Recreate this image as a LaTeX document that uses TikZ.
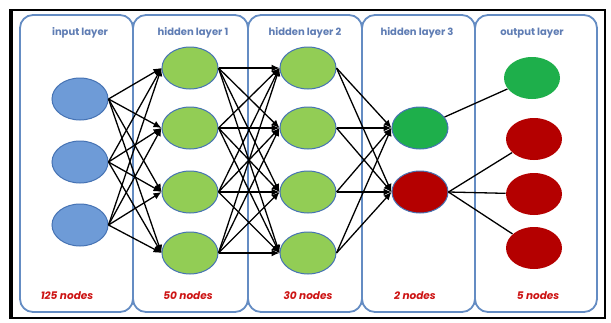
\documentclass[tikz,border=0pt]{standalone}
\usepackage{fontspec}
\setmainfont{Poppins}
\usepackage{tikz}
\usetikzlibrary{arrows.meta}
\usetikzlibrary{shapes.geometric}

\definecolor{layerblue}{RGB}{100,140,195}
\definecolor{titleblue}{RGB}{95,125,180}
\definecolor{inblue}{RGB}{110,155,215}
\definecolor{inedge}{RGB}{70,115,180}
\definecolor{hidgreen}{RGB}{146,205,85}
\definecolor{darkgreen}{RGB}{30,175,75}
\definecolor{darkred}{RGB}{180,0,0}
\definecolor{labelred}{RGB}{205,20,20}

\begin{document}
\begin{tikzpicture}[x=1pt, y=-1pt,
  neuron/.style={ellipse, minimum width=56pt, minimum height=42pt, inner sep=0pt, draw=inedge, line width=1pt},
  layer/.style={draw=layerblue, line width=1.8pt, rounded corners=13pt},
  title/.style={text=titleblue, font=\fontsize{10}{12}\selectfont\bfseries},
  count/.style={text=labelred, font=\fontsize{10.5}{12}\selectfont\bfseries\itshape},
  link/.style={black, line width=1.3pt, -{Latex[length=8pt,width=7pt]}},
  plain/.style={black, line width=1.3pt}]
\useasboundingbox (0,0) rectangle (611,322);
\fill[white] (0,0) rectangle (611,322);
\draw[black, line width=1.8pt] (10,10) rectangle (605,318);
\draw[black, line width=4pt] (10.5,9) -- (10.5,319);

\foreach \a/\b in {20/133, 133/248, 248/362, 362/475, 475/597} \draw[layer] (\a,15) rectangle (\b,312);

\node[title] (t1) at (80,33) {input layer};
\node[title] (t2) at (193,33) {hidden layer 1};
\node[title] (t3) at (305,33) {hidden layer 2};
\node[title] (t4) at (417,33) {hidden layer 3};
\node[title] (t5) at (532,33) {output layer};

\node[count] (c1) at (67,296) {125 nodes};
\node[count] (c2) at (188,296) {50 nodes};
\node[count] (c3) at (308,296) {30 nodes};
\node[count] (c4) at (415,296) {2 nodes};
\node[count] (c5) at (538,296) {5 nodes};

\foreach \y [count=\i] in {99,162,225} \node[neuron, fill=inblue] (in\i) at (80,\y) {};
\foreach \y [count=\i] in {68,128,192,253} {
  \node[neuron, fill=hidgreen] (hA\i) at (190,\y) {};
  \node[neuron, fill=hidgreen] (hB\i) at (308,\y) {};
}
\node[neuron, fill=darkgreen] (hC1) at (420,128) {};
\node[neuron, fill=darkred] (hC2) at (420,192) {};
\node[neuron, fill=darkgreen, draw=none] (out1) at (532,78) {};
\foreach \y [count=\i from 2] in {139,194,248} \node[neuron, fill=darkred, draw=none] (out\i) at (534,\y) {};

\foreach \i in {1,2,3} \foreach \j in {1,...,4} \draw[link] (in\i.east) -- (hA\j.west);
\foreach \i in {1,...,4} \foreach \j in {1,...,4} \draw[link] (hA\i.east) -- (hB\j.west);
\foreach \i in {1,...,4} \foreach \j in {1,2} \draw[link] (hB\i.east) -- (hC\j.west);
\draw[plain] (hC1) -- (out1);
\foreach \j in {2,3,4} \draw[plain] (hC2.east) -- (out\j);

\end{tikzpicture}
\end{document}
